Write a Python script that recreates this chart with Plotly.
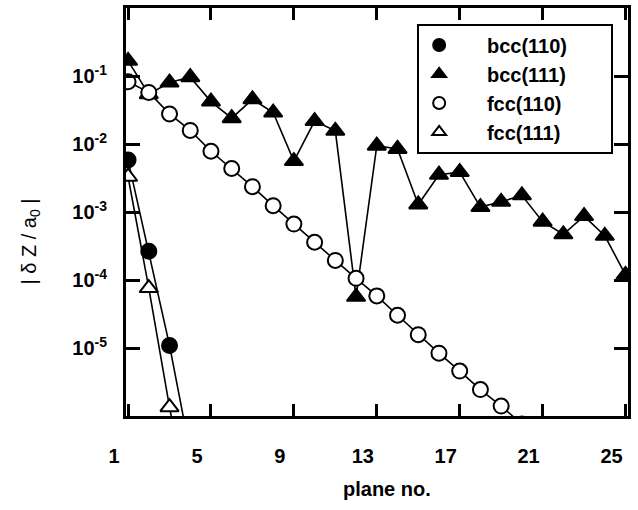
import plotly.graph_objects as go

# plane numbers
planes = list(range(1, 26))

# |dZ/a0| values
bcc110_x = [1, 2, 3, 4]
bcc110_y = [5.8e-3, 2.65e-4, 1.09e-5, 2.9e-7]

bcc111_x = planes
bcc111_y = [0.167, 0.054, 0.080, 0.096, 0.042, 0.024, 0.0454, 0.029, 0.0056,
            0.0217, 0.0156, 5.65e-5, 0.00945, 0.00845, 0.00129, 0.00353, 0.00386,
            0.00118, 0.00141, 0.00176, 0.00072, 0.00047, 0.00087, 0.000447, 0.000119]

fcc110_x = list(range(1, 21))
fcc110_y = [0.0823, 0.0574, 0.0277, 0.01585, 0.00782, 0.00436, 0.00236, 0.00124,
            0.000664, 0.000359, 0.000194, 0.000106, 5.84e-5, 3.03e-5, 1.57e-5,
            8.4e-6, 4.58e-6, 2.45e-6, 1.4e-6, 7.6e-7]

fcc111_x = [1, 2, 3, 4]
fcc111_y = [3.3e-3, 7.6e-5, 1.35e-6, 3e-8]

x_ticks = [1, 5, 9, 13, 17, 21, 25]
y_tickvals = [1e-1, 1e-2, 1e-3, 1e-4, 1e-5]
y_ticktext = ["10<sup>-1</sup>", "10<sup>-2</sup>", "10<sup>-3</sup>", "10<sup>-4</sup>", "10<sup>-5</sup>"]

names = ["bcc(110)", "bcc(111)", "fcc(110)", "fcc(111)"]

FONT = "Liberation Sans, Arial, Helvetica, sans-serif"
LW = 1.6
NB = "\u00a0"

series = [
    (bcc110_x, bcc110_y, "circle", "black", 15),
    (bcc111_x, bcc111_y, "triangle-up", "black", 16),
    (fcc110_x, fcc110_y, "circle", "white", 15),
    (fcc111_x, fcc111_y, "triangle-up", "white", 16),
]

fig = go.Figure()

# lines first (drawn beneath markers)
for (xs, ys, sym, fill, sz), nm in zip(series, names):
    fig.add_trace(go.Scatter(x=xs, y=ys, mode="lines", showlegend=False,
                             line=dict(color="black", width=LW), hoverinfo="skip"))

order = [1, 0, 3, 2]
for i in order:
    xs, ys, sym, fill, sz = series[i]
    fig.add_trace(go.Scatter(x=xs, y=ys, mode="markers",
                             name=NB * 5 + names[i] + NB * 7,
                             legendrank=i + 1,
                             marker=dict(symbol=sym, size=sz, color=fill,
                                         line=dict(color="black", width=2))))

fig.update_layout(
    width=638, height=510,
    margin=dict(l=126, r=10, t=5, b=94),
    paper_bgcolor="white", plot_bgcolor="white",
    font=dict(family=FONT, color="black", size=20),
    showlegend=True,
    legend=dict(x=0.58, y=0.962, xanchor="left", yanchor="top",
                bordercolor="black", borderwidth=2, bgcolor="white",
                font=dict(family=FONT, size=20, weight="bold"),
                tracegroupgap=0, itemsizing="constant"),
    xaxis=dict(range=[0.9, 25.12], tickmode="array", tickvals=x_ticks,
               ticks="inside", ticklen=12, tickwidth=2.5, tickcolor="black",
               showline=True, linewidth=3, linecolor="black", mirror="ticks",
               showgrid=False, zeroline=False,
               tickfont=dict(family=FONT, size=20, weight="bold"),
               ticklabelstandoff=20, ticklabelshift=-14),
    yaxis=dict(type="log", range=[-6, 0], tickmode="array",
               tickvals=y_tickvals, ticktext=y_ticktext,
               ticks="inside", ticklen=14, tickwidth=2.5, tickcolor="black",
               showline=True, linewidth=3, linecolor="black", mirror="ticks",
               showgrid=False, zeroline=False,
               tickfont=dict(family=FONT, size=20, weight="bold"),
               ticklabelstandoff=12),
    annotations=[
        dict(text="plane no.", xref="paper", yref="paper", x=0.52, y=-0.18,
             xanchor="center", yanchor="middle", showarrow=False,
             font=dict(family=FONT, size=20, weight="bold")),
        dict(text="| δ Z / a<sub>0</sub> |", xref="paper", yref="paper",
             x=-0.191, y=0.428, xanchor="center", yanchor="middle",
             textangle=-90, showarrow=False,
             font=dict(family=FONT, size=20)),
    ],
)

fig.write_html("out.html")
